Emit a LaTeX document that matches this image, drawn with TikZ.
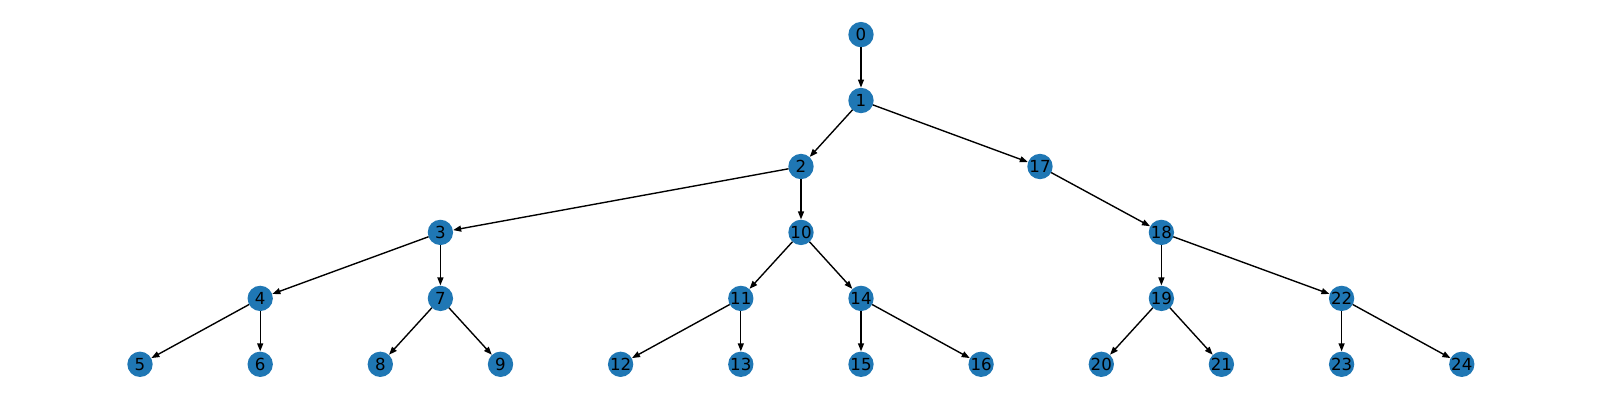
\documentclass[tikz,border=0pt]{standalone}
\usepackage{fontspec}
\setmainfont{DejaVu Sans}
\usetikzlibrary{arrows.meta}
\definecolor{nodeblue}{HTML}{1F77B4}
\begin{document}
\begin{tikzpicture}[x=0.01in,y=-0.01in,
  vert/.style={circle,fill=nodeblue,minimum size=18.3pt,inner sep=0pt,outer sep=0pt,font=\fontsize{12}{12}\selectfont,text=black},
  link/.style={-{Triangle[length=5.8pt,width=4.3pt]},line width=1pt,black,shorten >=0.2pt}]
\useasboundingbox (0,0) rectangle (1600,400);
\def\ya{34.6}\def\yb{100.5}\def\yc{166.5}\def\yd{232.4}\def\ye{298.4}\def\yf{364.3}
\node[vert] (n0) at (861,\ya) {0};
\node[vert] (n1) at (861,\yb) {1};
\node[vert] (n2) at (801,\yc) {2};
\node[vert] (n17) at (1040,\yc) {17};
\node[vert] (n3) at (440.4,\yd) {3};
\node[vert] (n10) at (801,\yd) {10};
\node[vert] (n18) at (1161.4,\yd) {18};
\node[vert] (n4) at (260.2,\ye) {4};
\node[vert] (n7) at (440.4,\ye) {7};
\node[vert] (n11) at (740.8,\ye) {11};
\node[vert] (n14) at (861,\ye) {14};
\node[vert] (n19) at (1161.4,\ye) {19};
\node[vert] (n22) at (1341.6,\ye) {22};
\node[vert] (n5) at (140,\yf) {5};
\node[vert] (n6) at (260.2,\yf) {6};
\node[vert] (n8) at (380.3,\yf) {8};
\node[vert] (n9) at (500.5,\yf) {9};
\node[vert] (n12) at (620.6,\yf) {12};
\node[vert] (n13) at (740.8,\yf) {13};
\node[vert] (n15) at (861,\yf) {15};
\node[vert] (n16) at (981.1,\yf) {16};
\node[vert] (n20) at (1101.3,\yf) {20};
\node[vert] (n21) at (1221.4,\yf) {21};
\node[vert] (n23) at (1341.6,\yf) {23};
\node[vert] (n24) at (1461.8,\yf) {24};
\foreach \a/\b in {0/1,1/2,1/17,2/3,2/10,17/18,3/4,3/7,10/11,10/14,18/19,18/22,4/5,4/6,7/8,7/9,11/12,11/13,14/15,14/16,19/20,19/21,22/23,22/24}
  \draw[link] (n\a) -- (n\b);
\end{tikzpicture}
\end{document}
